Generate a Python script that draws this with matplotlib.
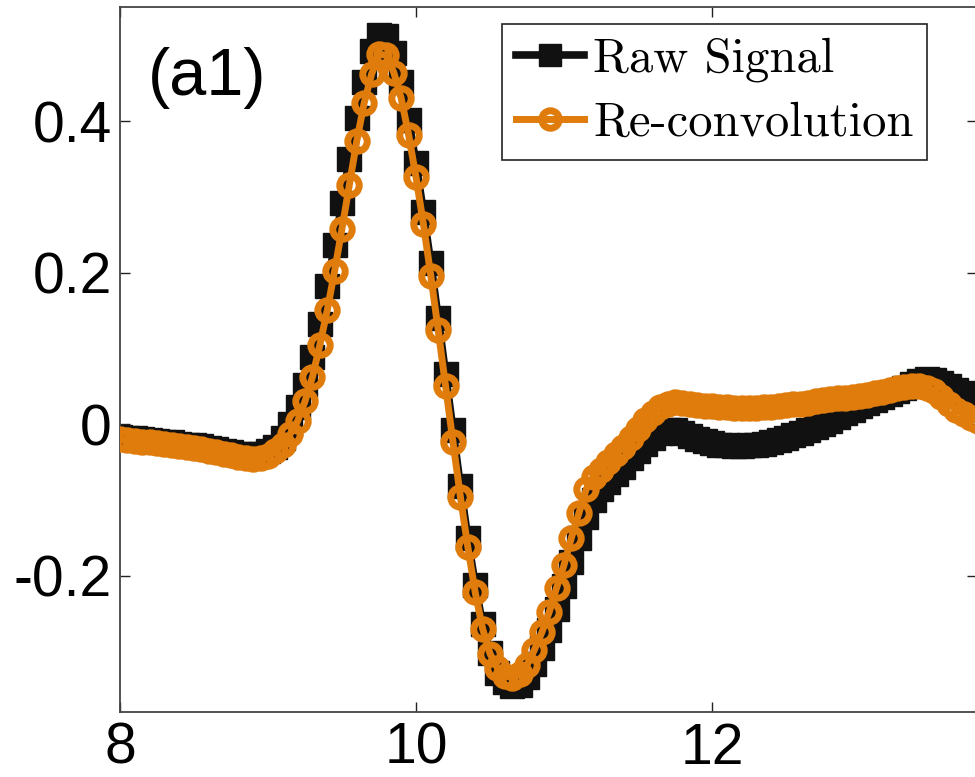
import numpy as np
import matplotlib
matplotlib.use('Agg')
import matplotlib.pyplot as plt

plt.rcParams['font.family'] = ['Liberation Sans', 'DejaVu Sans']
plt.rcParams['axes.unicode_minus'] = False

# time axis, one sample every 0.05
t = np.round(np.arange(8.0, 13.80001, 0.05), 2)

# Raw Signal (black)
raw = [-0.017, -0.018, -0.019, -0.020, -0.021, -0.022, -0.023, -0.024, -0.026, -0.027,
       -0.028, -0.029, -0.031, -0.033, -0.035, -0.037, -0.039, -0.040, -0.041, -0.040,
       -0.036, -0.030, -0.018, 0.000, 0.022, 0.052, 0.088, 0.132, 0.182, 0.236,
       0.292, 0.350, 0.404, 0.452, 0.492, 0.514, 0.512, 0.490, 0.452, 0.402,
       0.344, 0.280, 0.212, 0.140, 0.066, -0.008, -0.082, -0.150, -0.212, -0.264,
       -0.302, -0.328, -0.341, -0.346, -0.344, -0.334, -0.317, -0.296, -0.272, -0.244,
       -0.214, -0.182, -0.150, -0.122, -0.100, -0.086, -0.076, -0.066, -0.056, -0.045,
       -0.035, -0.026, -0.018, -0.012, -0.008, -0.008, -0.012, -0.016, -0.020, -0.022,
       -0.025, -0.027, -0.028, -0.029, -0.029, -0.028, -0.027, -0.026, -0.024, -0.021,
       -0.018, -0.015, -0.012, -0.008, -0.004, 0.000, 0.004, 0.009, 0.014, 0.019,
       0.024, 0.028, 0.032, 0.036, 0.040, 0.044, 0.048, 0.053, 0.057, 0.059,
       0.058, 0.054, 0.050, 0.045, 0.041, 0.037, 0.033]

# Re-convolution (orange)
reconv = [-0.020, -0.021, -0.022, -0.023, -0.024, -0.025, -0.026, -0.027, -0.029, -0.030,
          -0.032, -0.033, -0.035, -0.037, -0.039, -0.041, -0.043, -0.045, -0.046, -0.045,
          -0.042, -0.036, -0.027, -0.013, 0.004, 0.030, 0.062, 0.104, 0.150, 0.202,
          0.258, 0.316, 0.374, 0.424, 0.462, 0.488, 0.487, 0.464, 0.430, 0.382,
          0.326, 0.264, 0.196, 0.124, 0.050, -0.024, -0.096, -0.162, -0.222, -0.270,
          -0.303, -0.322, -0.332, -0.335, -0.330, -0.318, -0.298, -0.275, -0.248, -0.216,
          -0.186, -0.150, -0.118, -0.086, -0.070, -0.060, -0.050, -0.040, -0.030, -0.018,
          -0.006, 0.005, 0.015, 0.022, 0.027, 0.029, 0.028, 0.026, 0.025, 0.024,
          0.024, 0.023, 0.022, 0.021, 0.021, 0.021, 0.021, 0.022, 0.023, 0.024,
          0.025, 0.026, 0.027, 0.028, 0.030, 0.032, 0.033, 0.034, 0.035, 0.036,
          0.037, 0.039, 0.041, 0.043, 0.045, 0.047, 0.049, 0.050, 0.050, 0.048,
          0.044, 0.036, 0.027, 0.019, 0.013, 0.008, 0.004]

orange = '#DF7C0C'

fig = plt.figure(figsize=(9.75, 7.77), dpi=100)
W, H = 975.0, 777.0
ax = fig.add_axes([120 / W, 1 - 712 / H, (977 - 120) / W, (712 - 7) / H])

ax.plot(t, raw, color='#111111', lw=5.5, marker='s', ms=17, mec='#111111',
        mfc='#111111', label='Raw Signal', zorder=2)
ax.plot(t, reconv, color=orange, lw=5, marker='o', ms=14, mew=5, mec=orange,
        mfc='none', label='Re-convolution', zorder=3)

ax.set_xlim(8, 8 + 857 / 148)
ax.set_ylim(-0.38, 0.5505)
ax.set_xticks([8, 10, 12])
ax.set_yticks([-0.2, 0, 0.2, 0.4])
ax.set_xticklabels(['8', '10', '12'])
ax.set_yticklabels(['-0.2', '0', '0.2', '0.4'])
ax.tick_params(direction='in', length=7, width=1, labelsize=41, top=True, right=True,
               color='#222222')
ax.tick_params(axis='x', pad=7)
ax.tick_params(axis='y', pad=6)
for s in ax.spines.values():
    s.set_linewidth(1.3)
    s.set_color('#444444')

ax.text(8.19, 0.434, '(a1)', fontsize=48, va='baseline', ha='left')

leg = ax.legend(loc='upper left', bbox_to_anchor=((502 - 120) / 857, (712 - 24) / 705),
                borderaxespad=0, prop={'family': 'cmr10', 'size': 35},
                handlelength=1.4, handletextpad=0.2, labelspacing=0.4,
                borderpad=0.28, fancybox=False, framealpha=1, markerscale=0.9)
leg.get_frame().set_edgecolor('#222222')
leg.get_frame().set_linewidth(1.2)

fig.savefig('out.png', dpi=100)
